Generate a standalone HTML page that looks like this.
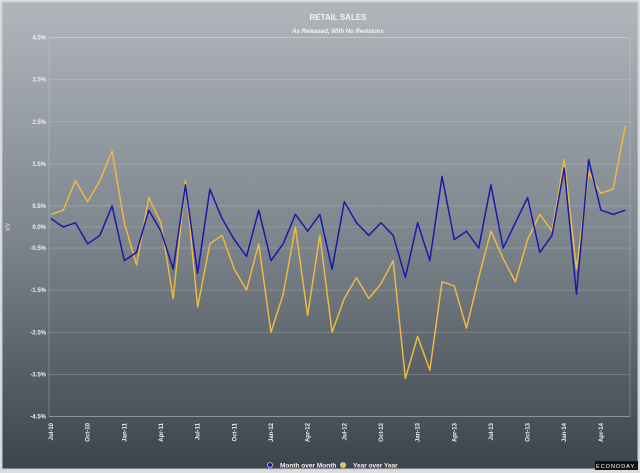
<!DOCTYPE html>
<html><head><meta charset="utf-8"><style>
html,body{margin:0;padding:0;width:640px;height:473px;overflow:hidden;background:#dcdcdc;font-family:"Liberation Sans",sans-serif}
</style></head><body>
<svg id="chart" width="640" height="473" xmlns="http://www.w3.org/2000/svg">
<defs><linearGradient id="bg" x1="0" y1="0" x2="0" y2="1">
<stop offset="0" stop-color="#b1b6bc"/><stop offset="0.5" stop-color="#7d858d"/><stop offset="1" stop-color="#3b444c"/></linearGradient></defs>
<rect x="2" y="2" width="636" height="467" fill="url(#bg)" stroke="#c8ccd0"/>
<text x="338" y="20" font-size="8" font-weight="bold" fill="#f4f4f4" text-anchor="middle">RETAIL SALES</text>
<text x="338" y="33" font-size="6" font-style="italic" font-weight="bold" fill="#f4f4f4" text-anchor="middle">As Released, With No Revisions</text>
<text x="9" y="227" font-size="6" fill="#eee" text-anchor="middle" transform="rotate(-90 9 227)">y/y</text>
<g id="grid"></g><g id="lines"></g><g id="xl"></g>
<g>
<circle cx="270" cy="465" r="2.5" fill="#1a1aa0" stroke="#fff" stroke-width="0.6"/>
<text x="280" y="467.5" font-size="6.5" font-weight="bold" fill="#f0f0f0">Month over Month</text>
<circle cx="343" cy="465" r="2.5" fill="#f0b840" stroke="#fff" stroke-width="0.6"/>
<text x="353" y="467.5" font-size="6.5" font-weight="bold" fill="#f0f0f0">Year over Year</text>
</g>
<rect x="595" y="461" width="43" height="9" fill="#111"/>
<text x="616.5" y="468" font-size="5.5" fill="#fff" text-anchor="middle" letter-spacing="1">ECONODAY.</text>
</svg>
<script>
const months=["Jul-10","Oct-10","Jan-11","Apr-11","Jul-11","Oct-11","Jan-12","Apr-12","Jul-12","Oct-12","Jan-13","Apr-13","Jul-13","Oct-13","Jan-14","Apr-14"];
const yTicks=[4.5,3.5,2.5,1.5,0.5,0,-0.5,-1.5,-2.5,-3.5,-4.5];
const mom=[0.2,0.0,0.1,-0.4,-0.2,0.5,-0.8,-0.6,0.4,-0.1,-1.0,1.0,-1.1,0.9,0.2,-0.3,-0.7,0.4,-0.8,-0.4,0.3,-0.1,0.3,-1.0,0.6,0.1,-0.2,0.1,-0.2,-1.2,0.1,-0.8,1.2,-0.3,-0.1,-0.5,1.0,-0.5,0.1,0.7,-0.6,-0.2,1.4,-1.6,1.6,0.4,0.3,0.4];
const yoy=[0.3,0.4,1.1,0.6,1.1,1.8,0.1,-0.9,0.7,0.1,-1.7,1.1,-1.9,-0.4,-0.2,-1.0,-1.5,-0.4,-2.5,-1.6,0.0,-2.1,-0.2,-2.5,-1.7,-1.2,-1.7,-1.35,-0.8,-3.6,-2.6,-3.4,-1.3,-1.4,-2.4,-1.2,-0.1,-0.75,-1.3,-0.3,0.3,-0.1,1.6,-1.0,1.3,0.8,0.9,2.4];
const NS="http://www.w3.org/2000/svg";
const L=49,R=630,X0=51,DX=12.22;
const y=v=>227-v*42.1, x=i=>X0+i*DX;
function mk(t,a,p){const e=document.createElementNS(NS,t);for(const k in a)e.setAttribute(k,a[k]);p.appendChild(e);return e;}
const g=document.getElementById('grid');
const frame=mk('rect',{x:L,y:y(4.5),width:R-L,height:y(-4.5)-y(4.5),fill:'none',stroke:'rgba(220,225,230,0.35)','stroke-width':0.8},g);


yTicks.forEach(v=>{
 const ln=mk('line',{x1:L,x2:R,y1:y(v),y2:y(v),stroke:'rgba(220,225,230,0.3)','stroke-width':0.8},g);
 
 
 const t=mk('text',{x:46,y:y(v)+2,'font-size':6,'font-weight':'bold',fill:'#eef','text-anchor':'end'},g);
 
 
 t.textContent=v.toFixed(1)+'%';
});
const xl=document.getElementById('xl');
months.forEach((m,k)=>{
 const px=x(k*3)+2,py=423;
 const t=mk('text',{x:px,y:py,'font-size':6,'font-weight':'bold',fill:'#f0f0f0','text-anchor':'end',transform:`rotate(-90 ${px} ${py})`},xl);
 
 
 t.textContent=m;
});
const lg=document.getElementById('lines');
const yl=mk('polyline',{points:yoy.map((v,i)=>x(i)+','+y(v)).join(' '),fill:'none',stroke:'#f0b840','stroke-width':1.5,'stroke-linejoin':'round'},lg);


const ml=mk('polyline',{points:mom.map((v,i)=>x(i)+','+y(v)).join(' '),fill:'none',stroke:'#1a1aa8','stroke-width':1.5,'stroke-linejoin':'round'},lg);


</script>
</body></html>
